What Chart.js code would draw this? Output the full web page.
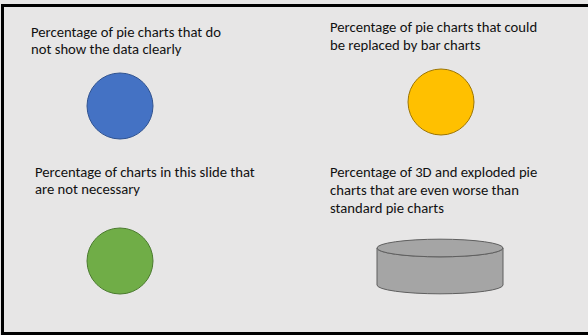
<!DOCTYPE html>
<html><head><meta charset="utf-8">
<script src="https://cdn.jsdelivr.net/npm/chart.js@4"></script>
<style>
  html, body { margin: 0; padding: 0; overflow: hidden; background: #e7e6e6; }
  #page { width: 588px; height: 335px; overflow: hidden; position: relative; background: #e7e6e6; }
  .bar { position: absolute; background: #000; }
  .title { position: absolute; font-family: Carlito, Calibri, sans-serif; font-size: 14.67px; line-height: 17.8px; color: #111; white-space: nowrap; }
  canvas { position: absolute; }
</style>
</head><body>
<div id="page">
<div class="bar" style="left:1px;top:3.5px;width:587px;height:3px"></div>
<div class="bar" style="left:1px;top:3.5px;width:3px;height:331.5px"></div>
<div class="bar" style="left:1px;top:332px;width:587px;height:3px"></div>
<div class="title" id="t0" style="left:31px;top:23.5px"></div>
<div class="title" id="t1" style="left:330px;top:19px"></div>
<div class="title" id="t2" style="left:35px;top:163.5px"></div>
<div class="title" id="t3" style="left:330px;top:164px"></div>
<canvas id="c0" width="80" height="80" style="left:80px;top:66px"></canvas>
<canvas id="c1" width="80" height="80" style="left:401px;top:62px"></canvas>
<canvas id="c2" width="80" height="80" style="left:80px;top:221px"></canvas>
<canvas id="c3" width="140" height="100" style="left:370px;top:198px"></canvas>
</div>
<script>
// Titles, one line per entry
const titles = [
    ['Percentage of pie charts that do', 'not show the data clearly'],
    ['Percentage of pie charts that could', 'be replaced by bar charts'],
    ['Percentage of charts in this slide that', 'are not necessary'],
    ['Percentage of 3D and exploded pie', 'charts that are even worse than', 'standard pie charts']
];
// Each chart is one slice holding everything
const shares = [100, 100, 100, 100];

const fills = ['#4472c4', '#ffc000', '#70ad47', '#a5a5a5'];
const edges = ['#2f528f', '#9c7400', '#4a7a2e', '#5f5f5f'];
const radii = [33, 33, 33, 63];

// outline of a single full slice (the built-in border also draws a spoke to the centre)
// and, for the last chart, a squat cylinder instead of a flat disc
const outlinePlugin = {
    id: 'outline',
    beforeDatasetDraw(chart, args, opts) {
        const arc = chart.getDatasetMeta(0).data[0];
        const { x, y, outerRadius } = arc.getProps(['x', 'y', 'outerRadius'], true);
        const ctx = chart.ctx;
        ctx.save();
        ctx.lineWidth = 1;
        ctx.fillStyle = opts.fill;
        ctx.strokeStyle = opts.edge;
        if (!opts.cylinder) {
            ctx.beginPath();
            ctx.arc(x, y, outerRadius, 0, Math.PI * 2);
            ctx.fill();
            ctx.stroke();
            ctx.restore();
            return false;
        }
        const rx = outerRadius, ry = outerRadius * opts.tilt, depth = opts.depth;
        ctx.beginPath();
        ctx.moveTo(x - rx, y);
        ctx.lineTo(x - rx, y + depth);
        ctx.ellipse(x, y + depth, rx, ry, 0, Math.PI, 0, true);
        ctx.lineTo(x + rx, y);
        ctx.ellipse(x, y, rx, ry, 0, 0, Math.PI, false);
        ctx.closePath();
        ctx.fill();
        ctx.stroke();
        ctx.beginPath();
        ctx.ellipse(x, y, rx, ry, 0, 0, Math.PI * 2);
        ctx.fill();
        ctx.stroke();
        ctx.restore();
        return false;
    }
};

titles.forEach((lines, i) => {
    const el = document.getElementById('t' + i);
    lines.forEach((line, j) => {
        if (j) el.appendChild(document.createElement('br'));
        el.appendChild(document.createTextNode(line));
    });

    new Chart(document.getElementById('c' + i), {
        type: 'pie',
        data: {
            labels: [lines.join(' ')],
            datasets: [{
                data: [shares[i]],
                backgroundColor: fills[i],
                borderWidth: 0,
                radius: radii[i]
            }]
        },
        options: {
            responsive: false,
            animation: false,
            events: [],
            layout: { padding: 0 },
            plugins: {
                legend: { display: false },
                tooltip: { enabled: false },
                title: { display: false },
                outline: { fill: fills[i], edge: edges[i], cylinder: i === 3, tilt: 0.14, depth: 37 }
            }
        },
        plugins: [outlinePlugin]
    });
});
</script>
</body></html>
